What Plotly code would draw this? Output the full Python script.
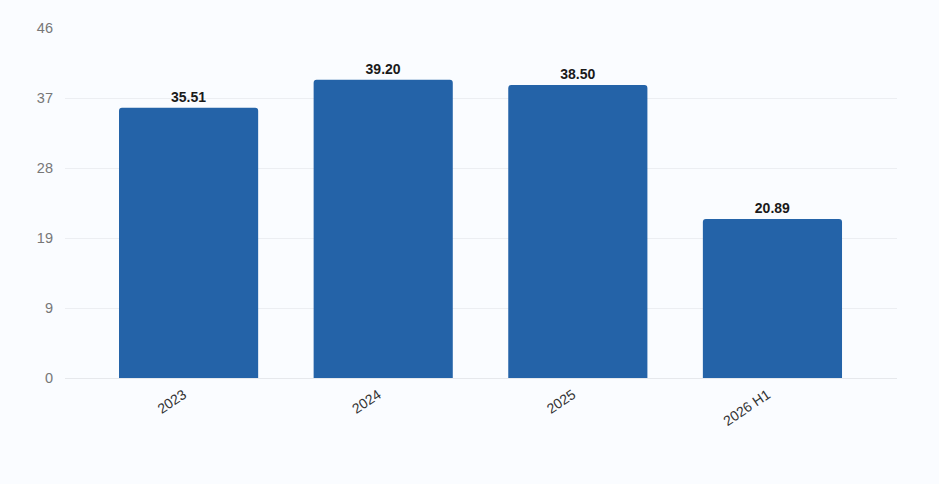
import plotly.graph_objects as go

categories = ["2023", "2024", "2025", "2026 H1"]
values = [35.51, 39.20, 38.50, 20.89]
ytick_vals = [0, 9.2, 18.4, 27.6, 36.8, 46]
ytick_text = ["0", "9", "19", "28", "37", "46"]

fig = go.Figure(go.Bar(
    x=categories, y=values,
    marker=dict(color="#2463a8", line=dict(width=0)),
    width=0.715,
    text=[f"{v:.2f}" for v in values],
    textposition="outside",
    textfont=dict(family="Liberation Sans, Arial", size=14, color="#1a1a1a", weight="bold"),
    cliponaxis=False,
))

fig.update_layout(
    width=939, height=484,
    margin=dict(l=65, r=42, t=28, b=106),
    paper_bgcolor="#fafcff", plot_bgcolor="#fafcff",
    barcornerradius=3,
    showlegend=False,
    font=dict(family="Liberation Sans, Arial", size=13, color="#777"),
)
fig.update_xaxes(
    range=[-0.635, 3.64], tickangle=-34, showgrid=False,
    tickfont=dict(size=14, color="#333"), ticks="", showline=False,
    ticklabelstandoff=5, ticklabelshift=-5,
)
fig.update_yaxes(
    range=[0, 46], tickvals=ytick_vals, ticktext=ytick_text,
    gridcolor="#eceef2", gridwidth=1, zeroline=True, zerolinecolor="#e6e8ec",
    zerolinewidth=1, tickfont=dict(size=14.5, color="#777"), ticks="", ticklabelstandoff=11,
)

fig.write_html(
    "out.html",
    config={"displayModeBar": False},
    post_script="document.body.style.margin='0';document.body.style.background='#fafcff';",
)
